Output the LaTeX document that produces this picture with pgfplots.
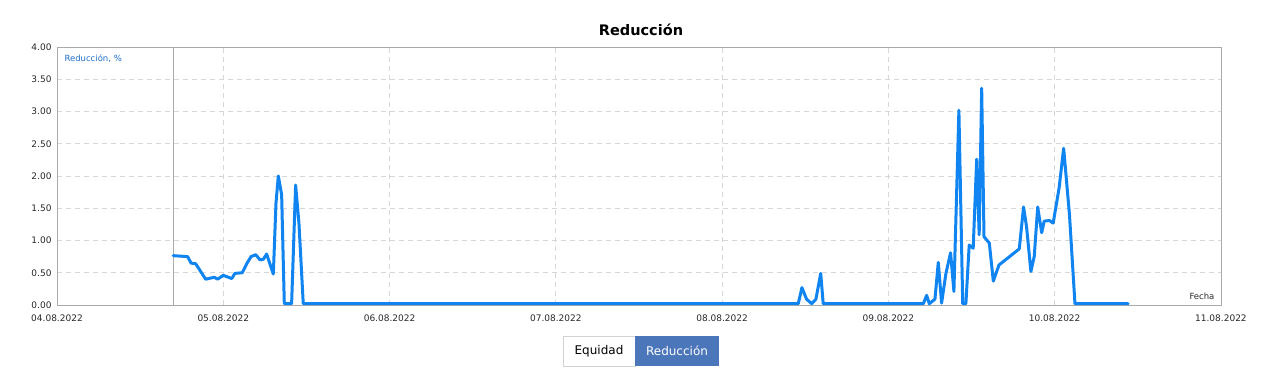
\documentclass[border=0pt]{standalone}
\usepackage{fontspec}
\setmainfont{DejaVu Sans}
\usepackage{pgfplots}
\pgfplotsset{compat=1.18}
\definecolor{ddblue}{RGB}{16,132,240}
\definecolor{axgray}{RGB}{170,170,170}
\definecolor{gridgray}{RGB}{215,215,215}
\definecolor{btnblue}{RGB}{76,118,186}
\definecolor{lblblue}{RGB}{30,110,200}
\definecolor{txtgray}{RGB}{40,40,40}
\begin{document}
\begin{tikzpicture}
\useasboundingbox (0bp,0bp) rectangle (1266bp,382bp);
\node[font=\fontsize{14.5bp}{17bp}\selectfont\bfseries, text=black] at (641bp,352bp) {Reducción};
\begin{axis}[
  at={(57bp,77bp)}, anchor=south west,
  scale only axis, width=1164bp, height=258bp,
  xmin=0, xmax=7, ymin=0, ymax=4,
  clip=false,
  axis line style={axgray, line width=0.8bp},
  grid=major,
  major grid style={gridgray, line width=0.8bp, dash pattern=on 5bp off 4bp},
  major tick length=0pt,
  xtick={0,1,2,3,4,5,6,7},
  xticklabels={04.08.2022,05.08.2022,06.08.2022,07.08.2022,08.08.2022,09.08.2022,10.08.2022,11.08.2022},
  ytick={0,0.5,1,1.5,2,2.5,3,3.5,4},
  yticklabels={0.00,0.50,1.00,1.50,2.00,2.50,3.00,3.50,4.00},
  tick label style={font=\fontsize{9bp}{10bp}\selectfont, text=txtgray},
  xticklabel style={yshift=-6bp},
  yticklabel style={xshift=-2bp},
]
\addplot[axgray, line width=0.8bp] coordinates {(0.698,0) (0.698,4)};
\addplot[ddblue, line width=3bp, line join=round, line cap=round] coordinates {
(0.699,0.765) (0.786,0.75) (0.806,0.65) (0.834,0.64) (0.894,0.40) (0.946,0.43) (0.966,0.40)
(1.000,0.46) (1.051,0.41) (1.070,0.49) (1.114,0.50) (1.141,0.64) (1.167,0.75) (1.195,0.78)
(1.221,0.70) (1.241,0.71) (1.261,0.79) (1.301,0.48) (1.317,1.58) (1.331,2.00) (1.351,1.71)
(1.367,0.02) (1.411,0.02) (1.435,1.86) (1.455,1.27) (1.481,0.02)
(4.458,0.02) (4.480,0.27) (4.508,0.09) (4.539,0.02) (4.564,0.09) (4.593,0.49) (4.608,0.02)
(5.210,0.02) (5.230,0.15) (5.246,0.02) (5.280,0.09) (5.300,0.66) (5.320,0.03) (5.346,0.49)
(5.374,0.81) (5.394,0.21) (5.424,3.02) (5.447,0.02) (5.466,0.02) (5.486,0.93) (5.510,0.88)
(5.531,2.26) (5.546,1.09) (5.561,3.36) (5.575,1.06) (5.607,0.96) (5.631,0.37) (5.665,0.62)
(5.787,0.87) (5.813,1.52) (5.831,1.21) (5.857,0.52) (5.877,0.75) (5.898,1.52) (5.922,1.12)
(5.937,1.30) (5.968,1.31) (5.991,1.27) (6.027,1.82) (6.054,2.43) (6.089,1.40) (6.122,0.02)
(6.442,0.02)
};
\node[anchor=north west, font=\fontsize{8.5bp}{10bp}\selectfont, text=lblblue] at (rel axis cs:0,1) [xshift=4bp, yshift=-4bp] {Reducción, \%};
\node[anchor=south east, font=\fontsize{8.5bp}{10bp}\selectfont, text=txtgray] at (rel axis cs:1,0) [xshift=-3bp, yshift=2bp] {Fecha};
\end{axis}
\draw[gray!35, fill=white, line width=0.8bp] (563bp,16bp) rectangle (635bp,46bp);
\node[font=\fontsize{12bp}{14bp}\selectfont, text=black] at (599bp,31bp) {Equidad};
\fill[btnblue] (635bp,16bp) rectangle (719bp,46bp);
\node[font=\fontsize{12bp}{14bp}\selectfont, text=white] at (677bp,31bp) {Reducción};
\end{tikzpicture}
\end{document}
